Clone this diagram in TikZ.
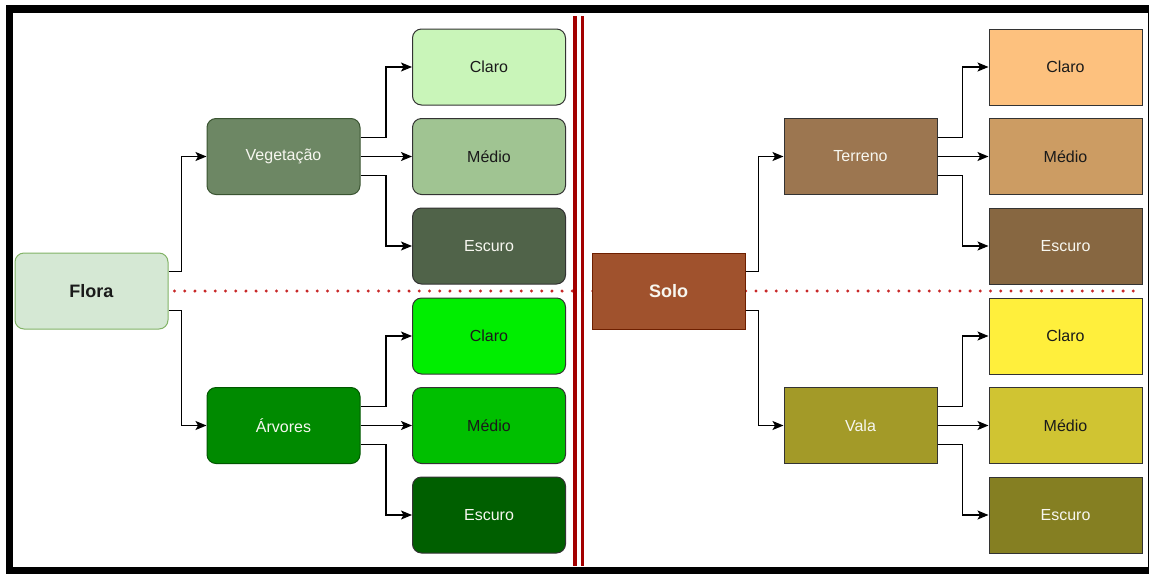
\documentclass[tikz,border=0pt]{standalone}
\usepackage{fontspec}
\setmainfont{Liberation Sans}
\usetikzlibrary{arrows.meta,calc,backgrounds}

% palette
\definecolor{txtdark}{HTML}{1A1A1A}
\definecolor{txtlight}{HTML}{F7F7F0}
\definecolor{floraFill}{HTML}{D5E8D4}\definecolor{floraLine}{HTML}{82B366}
\definecolor{vegFill}{HTML}{6D8764}\definecolor{vegLine}{HTML}{3A5431}
\definecolor{arvFill}{HTML}{008A00}\definecolor{arvLine}{HTML}{005700}
\definecolor{vClaro}{HTML}{C9F5B9}\definecolor{vMedio}{HTML}{A0C492}\definecolor{vEscuro}{HTML}{506349}
\definecolor{aClaro}{HTML}{00EE00}\definecolor{aMedio}{HTML}{00BF00}\definecolor{aEscuro}{HTML}{005F00}
\definecolor{soloFill}{HTML}{A0522D}\definecolor{soloLine}{HTML}{6D1F00}
\definecolor{terFill}{HTML}{9C7650}
\definecolor{valaFill}{HTML}{A39A28}
\definecolor{tClaro}{HTML}{FDC17E}\definecolor{tMedio}{HTML}{CC9C63}\definecolor{tEscuro}{HTML}{876741}
\definecolor{lClaro}{HTML}{FFEF3C}\definecolor{lMedio}{HTML}{D0C432}\definecolor{lEscuro}{HTML}{857F22}
\definecolor{divRed}{HTML}{A30000}
\definecolor{dotRed}{HTML}{C82828}
\definecolor{edgeGray}{HTML}{333333}

\tikzset{
  box/.style={draw=edgeGray, line width=1pt, minimum width=153pt, minimum height=76pt,
    inner sep=0pt, font=\fontsize{16}{19}\selectfont, text=txtdark},
  rbox/.style={box, rounded corners=9pt},
  rootlabel/.style={font=\fontsize{18}{21}\selectfont\bfseries},
  light/.style={text=txtlight},
  conn/.style={line width=1.2pt, draw=black,
    -{Stealth[length=11pt,width=9pt,inset=2.5pt]}},
  dotline/.style={dotRed, line width=3.3pt, line cap=round, dash pattern=on 0pt off 10.2pt},
  divider/.style={divRed, line width=3.5pt},
  frame/.style={line width=7.5pt, draw=black}
}

\begin{document}
\begin{tikzpicture}[x=1pt,y=-1pt]
\useasboundingbox (0,0) rectangle (1149,574);

% ---------- Flora side ----------
\node[rbox, draw=floraLine, fill=floraFill, rootlabel] (flora) at (91.5,291) {Flora};
\node[rbox, draw=vegLine, fill=vegFill, light] (veg) at (283.5,156.5) {Vegetação};
\node[rbox, draw=arvLine, fill=arvFill, light] (arv) at (283.5,425.5) {Árvores};

\node[rbox, fill=vClaro]         (vclaro)  at (489,67)    {Claro};
\node[rbox, fill=vMedio]         (vmedio)  at (489,156.5) {Médio};
\node[rbox, fill=vEscuro, light] (vescuro) at (489,246)   {Escuro};
\node[rbox, fill=aClaro]         (aclaro)  at (489,336)   {Claro};
\node[rbox, fill=aMedio]         (amedio)  at (489,425.5) {Médio};
\node[rbox, fill=aEscuro, light] (aescuro) at (489,515)   {Escuro};

% ---------- Solo side ----------
\node[box, draw=soloLine, fill=soloFill, rootlabel, light] (solo) at (668.5,291) {Solo};
\node[box, fill=terFill, light]  (ter)  at (860.5,156.5) {Terreno};
\node[box, fill=valaFill, light] (vala) at (860.5,425.5) {Vala};

\node[box, fill=tClaro]         (tclaro)  at (1065.5,67)    {Claro};
\node[box, fill=tMedio]         (tmedio)  at (1065.5,156.5) {Médio};
\node[box, fill=tEscuro, light] (tescuro) at (1065.5,246)   {Escuro};
\node[box, fill=lClaro]         (lclaro)  at (1065.5,336)   {Claro};
\node[box, fill=lMedio]         (lmedio)  at (1065.5,425.5) {Médio};
\node[box, fill=lEscuro, light] (lescuro) at (1065.5,515)   {Escuro};

% ---------- page background and separators (behind the boxes) ----------
\coordinate (dotEnd) at (1141,291);
\begin{pgfonlayer}{background}
  \fill[white] (0,0) rectangle (1149,574);
  \draw[dotline] ([xshift=6pt]flora.east) -- (dotEnd);
\end{pgfonlayer}
\draw[divider] (575,16) -- (575,566);
\draw[divider] (582.5,16) -- (582.5,566);

% ---------- connectors ----------
% root -> second level (exits at 1/4 and 3/4 of the root height)
\draw[conn] ($(flora.north east)!0.25!(flora.south east)$) -| ([xshift=-25pt]veg.west) -- (veg.west);
\draw[conn] ($(flora.north east)!0.75!(flora.south east)$) -| ([xshift=-25pt]arv.west) -- (arv.west);
\draw[conn] ($(solo.north east)!0.25!(solo.south east)$) -| ([xshift=-25pt]ter.west) -- (ter.west);
\draw[conn] ($(solo.north east)!0.75!(solo.south east)$) -| ([xshift=-25pt]vala.west) -- (vala.west);

% second level -> shades
\foreach \p/\a/\b/\c in {veg/vclaro/vmedio/vescuro, arv/aclaro/amedio/aescuro,
                         ter/tclaro/tmedio/tescuro, vala/lclaro/lmedio/lescuro}{
  \draw[conn] ($(\p.north east)!0.25!(\p.south east)$) -| ([xshift=-26pt]\a.west) -- (\a.west);
  \draw[conn] (\p.east) -- (\b.west);
  \draw[conn] ($(\p.north east)!0.75!(\p.south east)$) -| ([xshift=-26pt]\c.west) -- (\c.west);
}

% outer frame
\draw[frame] (9.5,9) rectangle (1152,570.5);
\end{tikzpicture}
\end{document}
